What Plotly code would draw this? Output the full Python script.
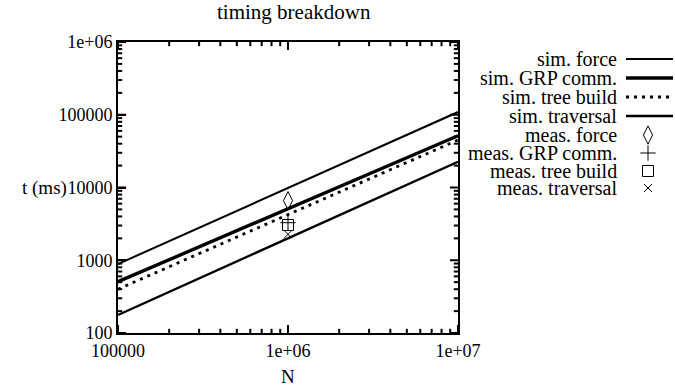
import plotly.graph_objects as go

# ---- data ----
N_sim = [1e5, 1e7]
sim_force = [888, 109000]
sim_grp = [507, 51500]
sim_tree = [400, 45000]
sim_trav = [177, 22600]

N_meas = [1e6]
meas_force = [6585]
meas_grp = [3283]
meas_tree = [3051]
meas_trav = [2274]

x_tickvals = [1e5, 1e6, 1e7]
x_ticktext = ["100000", "1e+06", "1e+07"]
y_tickvals = [100, 1000, 10000, 100000, 1000000]
y_ticktext = ["100", "1000", "10000", "100000", "1e+06"]

sim_names = ["sim. force", "sim. GRP comm.", "sim. tree build", "sim. traversal"]
meas_names = ["meas. force", "meas. GRP comm.", "meas. tree build", "meas. traversal"]

FONT = "Liberation Serif, Times New Roman, serif"
W, H = 675, 387
ML, MR, MT, MB = 118, 2, 42, 54
PLOT_W = 340
PW = W - ML - MR          # paper width in px
PH = H - MT - MB          # paper height in px


def px_x(p):
    return (p - ML) / PW


def px_y(p):
    return (H - MB - p) / PH


def minor_vals(decades):
    return [m * 10 ** d for d in decades for m in range(2, 10)]


x_minor = minor_vals([5, 6])
y_minor = minor_vals([2, 3, 4, 5])

sim_styles = [
    dict(color="black", width=2.0),
    dict(color="black", width=3.4),
    dict(color="black", width=2.8, dash="3px,5px"),
    dict(color="black", width=2.4),
]
meas_styles = [
    dict(symbol="diamond-tall-open", size=13, line=dict(color="black", width=1)),
    dict(symbol="cross-thin-open", size=11, line=dict(color="black", width=1)),
    dict(symbol="square-open", size=11, line=dict(color="black", width=1)),
    dict(symbol="x-thin-open", size=8, line=dict(color="black", width=1)),
]

fig = go.Figure()
for ys, name, st in zip([sim_force, sim_grp, sim_tree, sim_trav], sim_names, sim_styles):
    fig.add_trace(go.Scatter(x=N_sim, y=ys, mode="lines", line=st, name=name, showlegend=False))
for ys, name, st in zip([meas_force, meas_grp, meas_tree, meas_trav], meas_names, meas_styles):
    fig.add_trace(go.Scatter(x=N_meas, y=ys, mode="markers", marker=dict(color="black", **st),
                             name=name, showlegend=False))

# ---- inward tick marks on all four sides (line markers clipped to the plot area) ----
xlo, xhi = x_tickvals[0], x_tickvals[-1]
ylo, yhi = y_tickvals[0], y_tickvals[-1]


def tick_trace(xs, ys, symbol, size):
    return go.Scatter(x=xs, y=ys, mode="markers", cliponaxis=True, hoverinfo="skip",
                      showlegend=False,
                      marker=dict(symbol=symbol, size=size, color="black",
                                  line=dict(color="black", width=2)))


for vals, size in [(x_tickvals, 11.5), (x_minor, 6)]:
    fig.add_trace(tick_trace(vals + vals, [ylo] * len(vals) + [yhi] * len(vals),
                             "line-ns-open", size))
for vals, size in [(y_tickvals, 11.5), (y_minor, 6)]:
    fig.add_trace(tick_trace([xlo] * len(vals) + [xhi] * len(vals), vals + vals,
                             "line-ew-open", size))

# ---- manual legend (text right-aligned, sample on the right, gnuplot style) ----
LX0, LX1 = 622, 675       # legend-sample sub-area (px)
LY0, LY1 = 46, 200
rows = [59, 78, 97, 116, 135, 153, 171, 188]
names = sim_names + meas_names
for i, (name, ry) in enumerate(zip(names, rows)):
    fig.add_annotation(x=px_x(619), y=px_y(ry), xref="paper", yref="paper", text=name,
                       showarrow=False, xanchor="right", yanchor="middle",
                       font=dict(family=FONT, size=20, color="black"))
    if i < 4:
        fig.add_trace(go.Scatter(x=[626, 673], y=[ry, ry], xaxis="x2", yaxis="y2",
                                 mode="lines", line=sim_styles[i], showlegend=False,
                                 hoverinfo="skip", cliponaxis=False))
    else:
        fig.add_trace(go.Scatter(x=[648], y=[ry], xaxis="x2", yaxis="y2", mode="markers",
                                 marker=dict(color="black", **meas_styles[i - 4]),
                                 showlegend=False, hoverinfo="skip", cliponaxis=False))

dom = PLOT_W / PW
axis_common = dict(
    showline=True, linecolor="black", linewidth=2, mirror=True,
    ticks="inside", ticklen=8, tickwidth=2, tickcolor="black",
    showgrid=False, zeroline=False,
    tickfont=dict(family=FONT, size=18, color="black"),
)
fig.update_layout(
    width=W, height=H,
    margin=dict(l=ML, r=MR, t=MT, b=MB, autoexpand=False),
    paper_bgcolor="white", plot_bgcolor="rgba(0,0,0,0)",
    font=dict(family=FONT, color="black"),
    xaxis=dict(type="log", range=[5, 7], domain=[0, dom], tickmode="array",
               tickvals=x_tickvals, ticktext=x_ticktext, **axis_common),
    yaxis=dict(type="log", range=[2, 6], tickmode="array",
               tickvals=y_tickvals, ticktext=y_ticktext, **axis_common),
    xaxis2=dict(domain=[px_x(LX0), px_x(LX1 - MR)], range=[LX0, LX1 - MR],
                visible=False, anchor="y2"),
    yaxis2=dict(domain=[px_y(LY1), px_y(LY0)], range=[LY1, LY0], visible=False, anchor="x2"),
    showlegend=False,
)
fig.add_annotation(x=px_x(294), y=px_y(12), xref="paper", yref="paper",
                   text="timing breakdown", showarrow=False, xanchor="center", yanchor="middle",
                   font=dict(family=FONT, size=21, color="black"))
fig.add_annotation(x=px_x(288), y=px_y(376), xref="paper", yref="paper",
                   text="N", showarrow=False, xanchor="center", yanchor="middle",
                   font=dict(family=FONT, size=19, color="black"))
fig.add_annotation(x=px_x(69), y=0.5, xref="paper", yref="paper",
                   text="t (ms)", showarrow=False, xanchor="right", yanchor="middle",
                   font=dict(family=FONT, size=19, color="black"))

fig.write_html("out.html", config={"displayModeBar": False},
               post_script="document.body.style.margin='0';document.body.style.overflow='hidden';")
